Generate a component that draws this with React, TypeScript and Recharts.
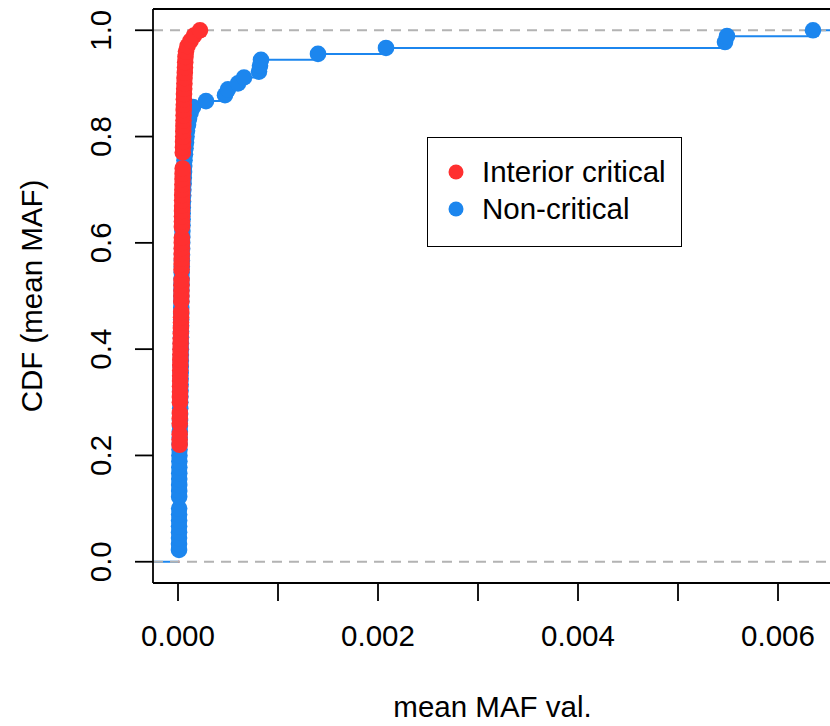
import React from "react";
import {
  ComposedChart,
  Line,
  Scatter,
  XAxis,
  YAxis,
  ReferenceLine,
  Legend,
} from "recharts";

// sample values (mean MAF) per group
const criticalVals = [
  1.6e-5, 1.6e-5, 1.6e-5, 1.6e-5, 1.6e-5, 1.6e-5, 1.6e-5, 1.6e-5, 1.6e-5, 1.6e-5, 1.6e-5,
  1.6e-5, 1.6e-5, 1.6e-5, 1.6e-5, 1.6e-5, 1.6e-5, 1.6e-5, 1.6e-5, 1.6e-5, 1.6e-5, 1.6e-5,
  1.65e-5, 1.7e-5, 1.75e-5, 1.75e-5, 1.8e-5, 1.85e-5, 1.9e-5, 1.9e-5, 1.95e-5, 2.0e-5,
  2.05e-5, 2.1e-5, 2.15e-5, 2.2e-5, 2.25e-5, 2.3e-5, 2.4e-5, 2.5e-5, 2.6e-5, 2.7e-5,
  2.8e-5, 2.9e-5, 3.0e-5, 3.1e-5, 3.2e-5, 3.3e-5, 3.3e-5, 3.35e-5, 3.4e-5, 3.45e-5,
  3.5e-5, 3.55e-5, 3.55e-5, 3.6e-5, 3.65e-5, 3.7e-5, 3.75e-5, 3.8e-5, 3.85e-5, 3.9e-5,
  3.9e-5, 3.95e-5, 4.0e-5, 4.05e-5, 4.1e-5, 4.15e-5, 4.2e-5, 4.3e-5, 4.4e-5, 4.5e-5,
  4.6e-5, 4.7e-5, 4.8e-5, 4.8e-5, 4.8e-5, 5.0e-5, 5.1e-5, 5.2e-5, 5.3e-5, 5.4e-5,
  5.5e-5, 5.6e-5, 5.7e-5, 5.8e-5, 5.9e-5, 6.0e-5, 6.2e-5, 6.4e-5, 6.5e-5, 6.8e-5,
  7.0e-5, 7.2e-5, 7.5e-5, 8.0e-5, 9.5e-5, 1.25e-4, 1.6e-4, 2.2e-4,
];

const nonCriticalVals = [
  1.0e-5, 1.0e-5,
  1.02e-5, 1.04e-5, 1.06e-5, 1.08e-5, 1.1e-5, 1.12e-5, 1.14e-5,
  1.16e-5, 1.16e-5,
  1.18e-5, 1.2e-5, 1.22e-5, 1.25e-5, 1.3e-5, 1.35e-5, 1.4e-5,
  1.5e-5, 1.6e-5, 1.7e-5, 1.8e-5, 1.9e-5, 2.0e-5, 2.1e-5, 2.2e-5, 2.3e-5, 2.4e-5,
  2.5e-5, 2.6e-5, 2.65e-5, 2.7e-5, 2.75e-5, 2.8e-5, 2.85e-5, 2.9e-5, 2.95e-5, 3.0e-5,
  3.05e-5, 3.1e-5, 3.15e-5, 3.2e-5, 3.25e-5, 3.3e-5, 3.35e-5,
  3.4e-5, 3.5e-5, 3.6e-5, 3.7e-5, 3.8e-5, 3.9e-5, 4.0e-5, 4.1e-5, 4.2e-5, 4.3e-5, 4.4e-5,
  4.5e-5, 4.6e-5, 4.7e-5, 4.8e-5, 5.0e-5, 5.2e-5, 5.4e-5, 5.6e-5, 5.8e-5, 6.0e-5, 6.2e-5,
  6.5e-5, 7.0e-5, 7.5e-5, 8.0e-5, 8.5e-5, 9.0e-5, 1.0e-4, 1.1e-4, 1.25e-4, 1.5e-4,
  2.8e-4, 4.7e-4, 5.0e-4, 6.0e-4, 6.6e-4, 8.1e-4, 8.2e-4, 8.3e-4, 1.4e-3, 2.08e-3,
  5.47e-3, 5.49e-3, 6.35e-3,
];

const seriesNames = ["Interior critical", "Non-critical"];
const seriesColors = ["#FF3030", "#1C86EE"];

const xTicks = [0, 0.001, 0.002, 0.003, 0.004, 0.005, 0.006];
const xTickLabels = ["0.000", "", "0.002", "", "0.004", "", "0.006"];
const yTicks = [0, 0.2, 0.4, 0.6, 0.8, 1.0];
const yTickLabels = ["0.0", "0.2", "0.4", "0.6", "0.8", "1.0"];

const X_MIN = -0.00025;
const X_MAX = 0.00656;
const Y_MIN = -0.04;
const Y_MAX = 1.04;

const FONT = '"Liberation Sans", Arial, Helvetica, sans-serif';
const FS = 29.5;
const PLOT_LEFT = 153;
const PLOT_TOP = 9;
const X_AXIS_H = 143;
const CHART_H = 726;
const PLOT_W = (X_MAX - X_MIN) * 1e5;
const CHART_W = PLOT_LEFT + PLOT_W + 6;
const DOT_R = 8.3;

// ecdf knots: distinct values with the fraction of values <= each
function ecdfKnots(vals: number[]) {
  const s = [...vals].sort((a, b) => a - b);
  const n = s.length;
  const out: { x: number; y: number }[] = [];
  s.forEach((v, i) => {
    if (i === n - 1 || s[i + 1] !== v) out.push({ x: v, y: (i + 1) / n });
  });
  return out;
}

// horizontal steps only (like plot.ecdf, verticals = FALSE)
function ecdfSteps(knots: { x: number; y: number }[]) {
  const lo = knots[0].x;
  const hi = knots[knots.length - 1].x;
  const ext = 0.08 * (hi - lo);
  const pts: { x: number; y: number | null }[] = [
    { x: lo - ext, y: 0 },
    { x: lo, y: 0 },
    { x: lo, y: null },
  ];
  knots.forEach((k, i) => {
    const next = i < knots.length - 1 ? knots[i + 1].x : hi + ext;
    pts.push({ x: k.x, y: k.y }, { x: next, y: k.y }, { x: next, y: null });
  });
  return pts;
}

const criticalKnots = ecdfKnots(criticalVals);
const nonCriticalKnots = ecdfKnots(nonCriticalVals);
const criticalSteps = ecdfSteps(criticalKnots);
const nonCriticalSteps = ecdfSteps(nonCriticalKnots);

const XTick = (props: any) => {
  const { x, index } = props;
  const label = xTickLabels[index] ?? "";
  if (!label) return <g />;
  return (
    <text x={x} y={646} textAnchor="middle" fontFamily={FONT} fontSize={FS} fill="#000">
      {label}
    </text>
  );
};

const YTick = (props: any) => {
  const { y, index } = props;
  return (
    <text
      transform={`translate(111, ${y}) rotate(-90)`}
      textAnchor="middle"
      fontFamily={FONT}
      fontSize={FS}
      fill="#000"
    >
      {yTickLabels[index]}
    </text>
  );
};

const dot = (color: string) => (p: any) => (
  <circle cx={p.cx} cy={p.cy} r={DOT_R} fill={color} />
);

const LegendBox = () => (
  <div
    style={{
      position: "relative",
      boxSizing: "border-box",
      width: 255,
      height: 110,
      border: "1.8px solid #000",
      background: "#fff",
      fontFamily: FONT,
      fontSize: FS,
      color: "#000",
    }}
  >
    {seriesNames.map((name, i) => (
      <div
        key={name}
        style={{
          position: "absolute",
          left: 0,
          top: 17 + i * 37,
          height: 34,
          lineHeight: "34px",
          whiteSpace: "nowrap",
        }}
      >
        <svg width={16} height={16} style={{ position: "absolute", left: 20, top: 9 }}>
          <circle cx={8} cy={8} r={7.5} fill={seriesColors[i]} />
        </svg>
        <span style={{ position: "absolute", left: 54 }}>{name}</span>
      </div>
    ))}
  </div>
);

export default function App() {
  const plotMidX = PLOT_LEFT + (830 - PLOT_LEFT + 2) / 2;
  const plotMidY = PLOT_TOP + (CHART_H - X_AXIS_H - PLOT_TOP) / 2;
  return (
    <div
      style={{
        position: "absolute",
        left: 0,
        top: 0,
        width: 830,
        height: 726,
        overflow: "hidden",
        background: "#fff",
      }}
    >
      <ComposedChart
        width={CHART_W}
        height={CHART_H}
        margin={{ top: PLOT_TOP, right: 6, bottom: 0, left: 0 }}
      >
        <XAxis
          type="number"
          dataKey="x"
          domain={[X_MIN, X_MAX]}
          ticks={xTicks}
          allowDataOverflow
          interval={0}
          height={X_AXIS_H}
          tickSize={18}
          axisLine={{ stroke: "#000", strokeWidth: 1.8 }}
          tickLine={{ stroke: "#000", strokeWidth: 1.8 }}
          tick={<XTick />}
          label={() => (
            <text
              x={plotMidX}
              y={717}
              textAnchor="middle"
              fontFamily={FONT}
              fontSize={FS}
              fill="#000"
            >
              mean MAF val.
            </text>
          )}
        />
        <YAxis
          type="number"
          dataKey="y"
          domain={[Y_MIN, Y_MAX]}
          ticks={yTicks}
          allowDataOverflow
          interval={0}
          width={PLOT_LEFT}
          tickSize={18}
          axisLine={{ stroke: "#000", strokeWidth: 1.8 }}
          tickLine={{ stroke: "#000", strokeWidth: 1.8 }}
          tick={<YTick />}
          label={() => (
            <text
              transform={`translate(42, ${plotMidY}) rotate(-90)`}
              textAnchor="middle"
              fontFamily={FONT}
              fontSize={FS}
              fill="#000"
            >
              CDF (mean MAF)
            </text>
          )}
        />
        <ReferenceLine y={Y_MAX} stroke="#000" strokeWidth={1.8} ifOverflow="visible" />
        <Line
          data={nonCriticalSteps}
          dataKey="y"
          type="linear"
          stroke={seriesColors[1]}
          strokeWidth={2}
          dot={false}
          activeDot={false}
          connectNulls={false}
          legendType="none"
          isAnimationActive={false}
        />
        <Line
          data={criticalSteps}
          dataKey="y"
          type="linear"
          stroke={seriesColors[0]}
          strokeWidth={2}
          dot={false}
          activeDot={false}
          connectNulls={false}
          legendType="none"
          isAnimationActive={false}
        />
        <ReferenceLine y={0} stroke="#B3B3B3" strokeWidth={2} strokeDasharray="10 7" />
        <ReferenceLine y={1} stroke="#B3B3B3" strokeWidth={2} strokeDasharray="10 7" />
        <Scatter
          name={seriesNames[1]}
          data={nonCriticalKnots}
          fill={seriesColors[1]}
          shape={dot(seriesColors[1])}
          isAnimationActive={false}
        />
        <Scatter
          name={seriesNames[0]}
          data={criticalKnots}
          fill={seriesColors[0]}
          shape={dot(seriesColors[0])}
          isAnimationActive={false}
        />
        <Legend
          layout="vertical"
          align="center"
          verticalAlign="middle"
          wrapperStyle={{ left: 427, top: 137, width: 255, height: 110 }}
          content={() => <LegendBox />}
        />
      </ComposedChart>
    </div>
  );
}
